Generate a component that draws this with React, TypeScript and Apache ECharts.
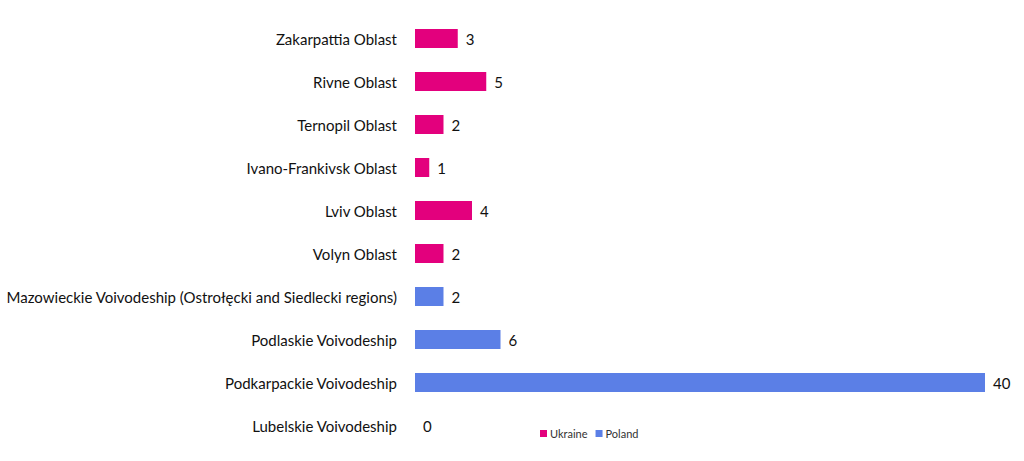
import React, { useEffect, useRef } from 'react';
import * as echarts from 'echarts';

// bottom-to-top order, as ECharts draws category y axes
const regions = [
  'Lubelskie Voivodeship',
  'Podkarpackie Voivodeship',
  'Podlaskie Voivodeship',
  'Mazowieckie Voivodeship (Ostrołęcki and Siedlecki regions)',
  'Volyn Oblast',
  'Lviv Oblast',
  'Ivano-Frankivsk Oblast',
  'Ternopil Oblast',
  'Rivne Oblast',
  'Zakarpattia Oblast',
];
const ukraine = ['-', '-', '-', '-', 2, 4, 1, 2, 5, 3];
const poland = [0, 40, 6, 2, '-', '-', '-', '-', '-', '-'];

const FONT = 'Lato, "Open Sans", sans-serif';

const App = () => {
  const chartRef = useRef<HTMLDivElement>(null);

  useEffect(() => {
    const chart = echarts.init(chartRef.current!, undefined, { renderer: 'svg' });
    const label = {
      show: true,
      position: 'right' as const,
      distance: 8,
      color: '#111',
      fontSize: 15,
      fontFamily: FONT,
    };
    chart.setOption({
      animation: false,
      textStyle: { fontFamily: FONT },
      grid: { left: 415, right: 39, top: 17, bottom: 14, containLabel: false },
      legend: {
        data: ['Ukraine', 'Poland'],
        left: 535,
        top: 423,
        itemWidth: 7,
        itemHeight: 7,
        itemGap: 8,
        icon: 'rect',
        textStyle: { fontSize: 11, color: '#333', fontFamily: FONT, padding: [0, 0, 0, -2] },
      },
      xAxis: {
        type: 'value',
        min: 0,
        max: 40,
        show: false,
      },
      yAxis: {
        type: 'category',
        data: regions,
        axisLine: { show: false },
        axisTick: { show: false },
        axisLabel: { color: '#111', fontSize: 15, margin: 18, fontFamily: FONT },
      },
      series: [
        {
          name: 'Ukraine',
          type: 'bar',
          stack: 'total',
          data: ukraine,
          barWidth: 19,
          itemStyle: { color: '#e3007d' },
          label,
        },
        {
          name: 'Poland',
          type: 'bar',
          stack: 'total',
          data: poland,
          barWidth: 19,
          itemStyle: { color: '#5b7fe6' },
          label,
        },
      ],
    });
    return () => {
      chart.dispose();
    };
  }, []);

  return (
    <div
      ref={chartRef}
      style={{ position: 'fixed', left: 0, top: 0, width: '1024px', height: '461px', background: '#fff' }}
    ></div>
  );
};
export default App;
